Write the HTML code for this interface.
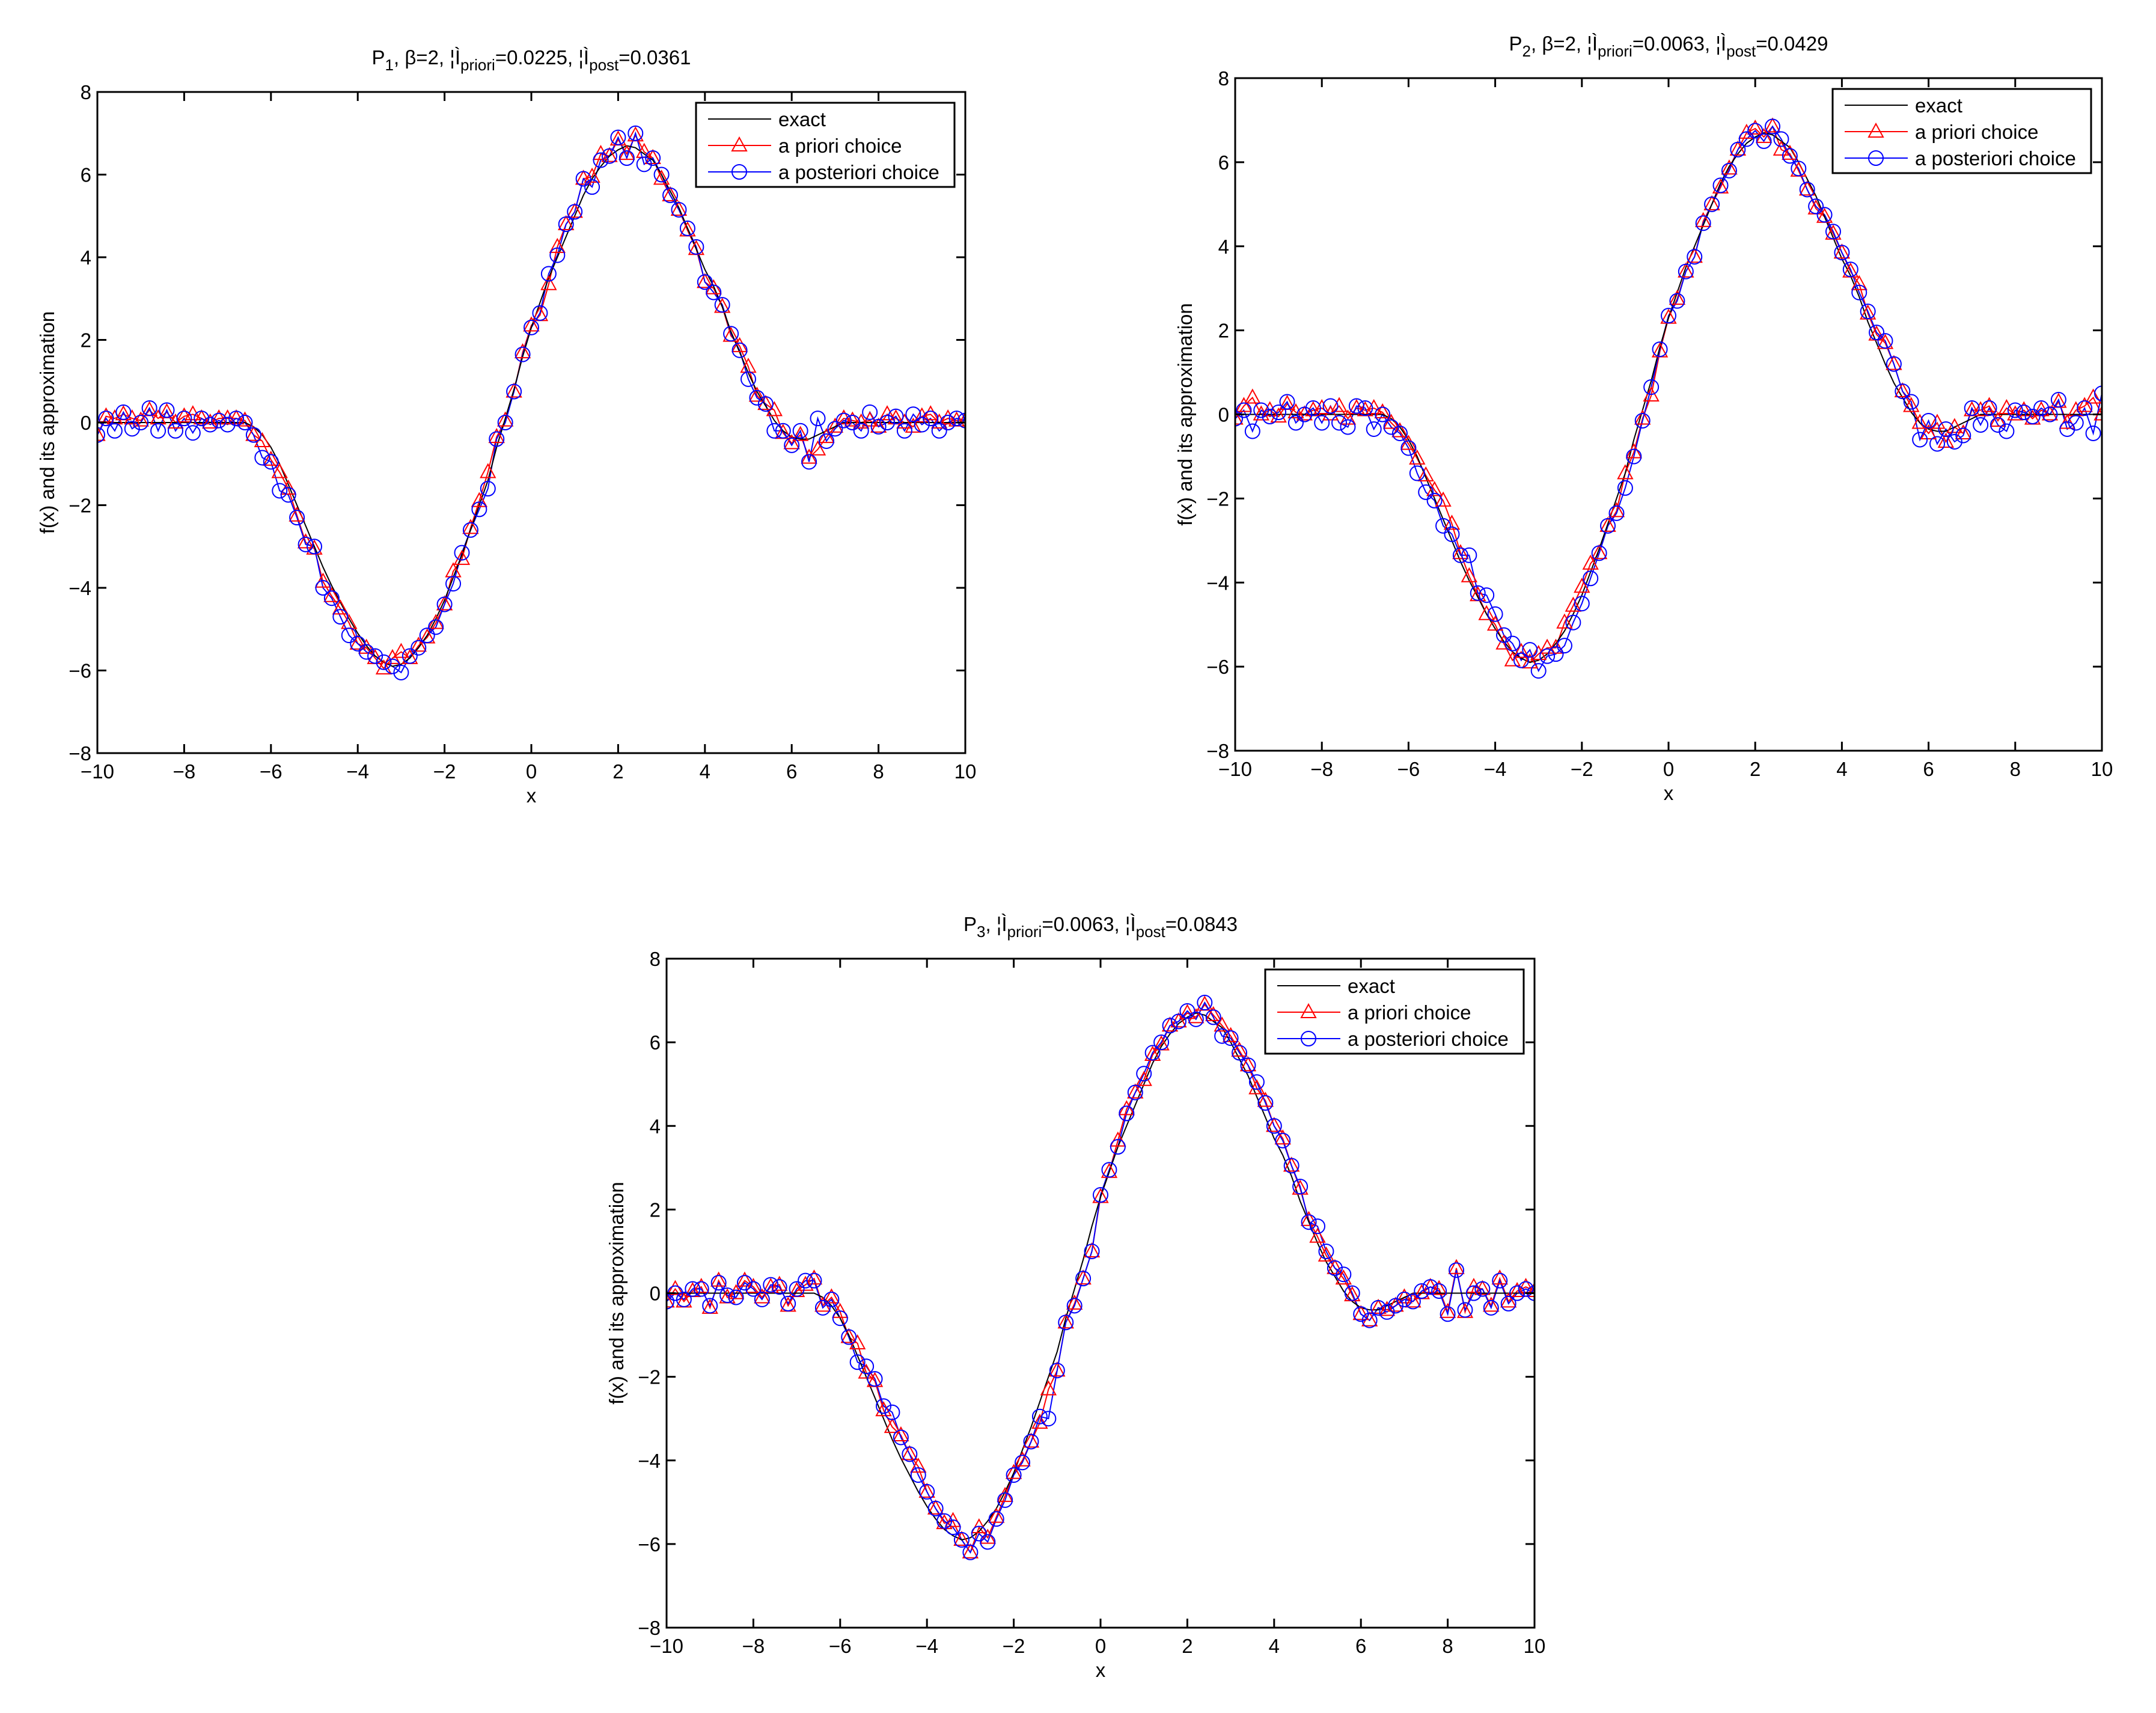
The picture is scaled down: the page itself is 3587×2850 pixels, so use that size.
<!DOCTYPE html>
<html><head><meta charset="utf-8">
<style>
html,body{margin:0;padding:0;background:#fff;}
svg{display:block;font-family:"Liberation Sans",Arial,sans-serif;}
</style></head>
<body>
<svg id="fig" width="3587" height="2850" viewBox="0 0 3587 2850" xmlns="http://www.w3.org/2000/svg"></svg>
<script>
const xTicks = [-10,-8,-6,-4,-2,0,2,4,6,8,10];
const yTicks = [-8,-6,-4,-2,0,2,4,6,8];
const exactY = [0,0,0,0,0,0,0,0,0,0,0,0,0,0,0,0,0,
0,-0.1,-0.3,-0.6,-1.0,-1.5,-2.0,-2.5,-3.0,-3.5,
-3.95,-4.35,-4.75,-5.1,-5.4,-5.65,-5.8,-5.9,-5.85,-5.7,
-5.45,-5.15,-4.75,-4.3,-3.75,-3.2,-2.6,-2.0,-1.4,-0.6,
0.1,0.8,1.6,2.3,2.9,3.5,4.0,4.5,5.0,5.5,
5.9,6.2,6.45,6.6,6.7,6.65,6.5,6.35,6.0,5.6,
5.2,4.7,4.2,3.7,3.3,2.8,2.2,1.7,1.2,0.75,
0.4,0.05,-0.2,-0.35,-0.4,-0.4,-0.3,-0.2,-0.1,
0,0,0,0,0,0,0,0,0,0,0,0,0,0,0];
const p1Priori = [-0.3,0.15,0.1,0.2,0.1,0.05,0.3,0.1,0.25,0.0,0.15,0.2,0.1,0.0,0.1,0.1,0.1,
0.05,-0.3,-0.45,-0.9,-1.2,-1.6,-2.25,-2.9,-3.05,-3.85,-4.2,-4.5,-4.85,-5.35,-5.45,-5.7,-5.95,-5.7,-5.55,-5.7,-5.4,-5.2,-4.85,-4.4,-3.6,-3.3,-2.55,-1.9,-1.2,-0.35,0.05,0.75,1.7,2.35,2.6,3.35,4.25,4.8,5.1,5.9,5.95,6.5,6.45,6.85,6.5,6.95,6.55,6.4,5.9,5.5,5.15,4.65,4.2,3.4,3.25,2.8,2.1,1.85,1.35,0.65,0.45,0.3,-0.25,-0.5,-0.3,-0.85,-0.65,-0.35,-0.1,
0.1,0.05,0.0,0.05,-0.1,0.2,0.1,0.0,-0.1,0.15,0.2,0.0,0.1,0.05,0.05];
const p1Post = [-0.3,0.1,-0.2,0.25,-0.15,0.0,0.35,-0.2,0.3,-0.2,0.1,-0.25,0.1,-0.05,0.05,-0.05,0.1,
0.0,-0.3,-0.85,-0.95,-1.65,-1.75,-2.3,-2.95,-3.0,-4.0,-4.25,-4.7,-5.15,-5.35,-5.55,-5.65,-5.8,-5.9,-6.05,-5.65,-5.45,-5.15,-4.95,-4.4,-3.9,-3.15,-2.6,-2.1,-1.6,-0.4,0.0,0.75,1.65,2.3,2.65,3.6,4.05,4.8,5.1,5.9,5.7,6.35,6.45,6.9,6.4,7.0,6.25,6.4,6.0,5.5,5.15,4.7,4.25,3.4,3.15,2.85,2.15,1.75,1.05,0.6,0.45,-0.2,-0.2,-0.55,-0.2,-0.95,0.1,-0.45,-0.15,
0.05,0.0,-0.2,0.25,-0.1,0.0,0.15,-0.2,0.2,-0.05,0.1,-0.2,0.0,0.1,0.05];
const p2Priori = [-0.1,0.2,0.4,0.0,0.1,-0.05,0.25,0.05,0.0,0.1,0.15,0.0,0.2,-0.1,0.15,0.1,0.15,
0.05,-0.2,-0.4,-0.7,-1.05,-1.45,-1.8,-2.05,-2.6,-3.3,
-3.85,-4.3,-4.75,-5.0,-5.45,-5.85,-5.65,-5.9,-5.7,-5.55,
-5.55,-4.95,-4.55,-4.1,-3.55,-3.3,-2.65,-2.3,-1.4,-0.9,
-0.1,0.45,1.5,2.3,2.75,3.4,3.75,4.6,5.0,5.4,
5.85,6.3,6.7,6.8,6.6,6.85,6.3,6.2,5.8,5.35,
4.9,4.7,4.3,3.85,3.4,3.1,2.4,1.9,1.7,1.2,
0.55,0.2,-0.2,-0.45,-0.2,-0.65,-0.3,-0.45,0.1,
0.1,0.2,-0.15,0.15,0.0,0.1,-0.1,0.1,0.0,0.3,-0.2,0.1,0.2,0.4,0.0];
const p2Post = [-0.1,0.1,-0.4,0.1,-0.05,0.05,0.3,-0.2,0.0,0.15,-0.2,0.2,-0.2,-0.3,0.2,0.15,-0.35,
0.0,-0.3,-0.45,-0.8,-1.4,-1.85,-2.05,-2.65,-2.85,-3.35,
-3.35,-4.25,-4.3,-4.75,-5.25,-5.45,-5.85,-5.6,-6.1,-5.75,
-5.7,-5.5,-4.95,-4.5,-3.9,-3.3,-2.65,-2.35,-1.75,-1.0,
-0.15,0.65,1.55,2.35,2.7,3.4,3.75,4.55,5.0,5.45,
5.8,6.3,6.55,6.75,6.5,6.85,6.55,6.15,5.85,5.35,
4.95,4.75,4.35,3.85,3.45,2.9,2.45,1.95,1.75,1.2,
0.55,0.3,-0.6,-0.15,-0.7,-0.35,-0.65,-0.5,0.15,
-0.25,0.15,-0.25,-0.4,0.1,0.05,-0.05,0.15,0.0,0.35,-0.35,-0.2,0.15,-0.45,0.5];
const p3Priori = [-0.2,0.1,-0.2,0.05,0.15,-0.35,0.3,-0.1,0.0,0.3,0.15,-0.1,0.15,0.2,-0.3,0.05,0.2,
0.35,-0.3,-0.1,-0.45,-1.05,-1.2,-1.9,-2.1,-2.8,-3.2,
-3.4,-3.85,-4.15,-4.75,-5.15,-5.5,-5.45,-5.9,-6.2,-5.6,
-5.85,-5.35,-4.85,-4.3,-4.0,-3.55,-3.1,-2.3,-1.85,-0.7,
-0.25,0.35,1.0,2.3,2.9,3.65,4.4,4.8,5.1,5.7,
5.95,6.4,6.5,6.7,6.6,6.9,6.65,6.4,6.15,5.8,
5.45,4.9,4.6,4.0,3.7,3.05,2.5,1.75,1.35,0.9,
0.6,0.35,-0.05,-0.5,-0.65,-0.35,-0.4,-0.3,-0.1,
-0.2,0.0,0.15,0.1,-0.45,0.6,-0.45,0.15,0.1,-0.3,0.35,-0.2,0.05,0.15,0.05];
const p3Post = [-0.2,0.0,-0.15,0.1,0.1,-0.3,0.25,-0.05,-0.1,0.25,0.1,-0.15,0.2,0.15,-0.25,0.1,0.3,
0.3,-0.35,-0.15,-0.6,-1.05,-1.65,-1.75,-2.05,-2.7,-2.85,
-3.45,-3.85,-4.35,-4.75,-5.15,-5.45,-5.6,-5.9,-6.2,-5.75,
-5.95,-5.4,-4.95,-4.35,-4.05,-3.55,-2.95,-3.0,-1.85,-0.7,
-0.3,0.35,1.0,2.35,2.95,3.5,4.3,4.8,5.25,5.75,
6.0,6.4,6.5,6.75,6.55,6.95,6.6,6.15,6.1,5.75,
5.45,5.05,4.55,4.0,3.65,3.05,2.55,1.7,1.6,1.0,
0.6,0.45,0.0,-0.5,-0.65,-0.35,-0.45,-0.3,-0.15,
-0.2,0.05,0.15,0.05,-0.5,0.55,-0.4,0.0,0.1,-0.35,0.3,-0.25,0.0,0.1,0.0];

const NS = "http://www.w3.org/2000/svg";
const fig = document.getElementById('fig');
function mk(tag, attrs, parent){
  const e = document.createElementNS(NS, tag);
  for (const k in attrs) e.setAttribute(k, attrs[k]);
  (parent||fig).appendChild(e);
  return e;
}
function xs(i){ return -10 + i*0.2; }

function drawPlot(box, titleParts, priori, post, idx){
  const g = mk('g', {});
  
  
  const L=box[0], T=box[1], R=box[2], B=box[3];
  const sx = v => L + (v+10)/20*(R-L);
  const sy = v => B - (v+8)/16*(B-T);
  const clip = 'clip'+idx;
  const cp = mk('clipPath', {id:clip}, g);
  mk('rect', {x:L, y:T, width:R-L, height:B-T}, cp);
  const sg = mk('g', {'clip-path':'url(#'+clip+')'}, g);
  
  
  function pts(arr){ return arr.map((v,i)=>sx(xs(i)).toFixed(1)+','+sy(v).toFixed(1)).join(' '); }
  const lr = mk('polyline', {points:pts(priori), fill:'none', stroke:'#ff0000', 'stroke-width':2}, sg);
  
  
  const lb = mk('polyline', {points:pts(post), fill:'none', stroke:'#0000ff', 'stroke-width':2}, sg);
  
  
  const le = mk('polyline', {points:pts(exactY), fill:'none', stroke:'#000', 'stroke-width':2}, sg);
  
  
  priori.forEach((v,i)=>{
    const cx=sx(xs(i)), cy=sy(v);
    const t = mk('polygon', {points:`${cx},${cy-13} ${cx-12},${cy+9} ${cx+12},${cy+9}`, fill:'none', stroke:'#ff0000', 'stroke-width':2}, sg);
    
    
  });
  post.forEach((v,i)=>{
    const c = mk('circle', {cx:sx(xs(i)), cy:sy(v), r:12, fill:'none', stroke:'#0000ff', 'stroke-width':2}, sg);
    
    
  });
  const ax = mk('rect', {x:L, y:T, width:R-L, height:B-T, fill:'none', stroke:'#000', 'stroke-width':3}, g);
  
  
  xTicks.forEach(v=>{
    const x=sx(v);
    mk('line', {x1:x, y1:B, x2:x, y2:B-15, stroke:'#000', 'stroke-width':3}, g);
    mk('line', {x1:x, y1:T, x2:x, y2:T+15, stroke:'#000', 'stroke-width':3}, g);
    const t = mk('text', {x:x, y:B+42, 'font-size':33, 'text-anchor':'middle'}, g);
    
    
    t.textContent = v<0 ? '\u2212'+(-v) : String(v);
  });
  yTicks.forEach(v=>{
    const y=sy(v);
    mk('line', {x1:L, y1:y, x2:L+15, y2:y, stroke:'#000', 'stroke-width':3}, g);
    mk('line', {x1:R, y1:y, x2:R-15, y2:y, stroke:'#000', 'stroke-width':3}, g);
    const t = mk('text', {x:L-10, y:y+12, 'font-size':33, 'text-anchor':'end'}, g);
    
    
    t.textContent = v<0 ? '\u2212'+(-v) : String(v);
  });
  const xl = mk('text', {x:(L+R)/2, y:B+82, 'font-size':33, 'text-anchor':'middle'}, g);
  
  
  xl.textContent = 'x';
  const yc=(T+B)/2, yx=L-72;
  const yl = mk('text', {x:yx, y:yc, 'font-size':33, 'text-anchor':'middle', transform:`rotate(-90 ${yx} ${yc})`}, g);
  
  
  yl.textContent = 'f(x) and its approximation';
  const tt = mk('text', {x:(L+R)/2, y:T-46, 'font-size':33, 'text-anchor':'middle'}, g);
  
  
  titleParts.forEach(p=>{
    const s = mk('tspan', {}, tt);
    if (p[1]) { s.setAttribute('font-size', 26); s.setAttribute('dy', 10); }
    else if (p[2]) { s.setAttribute('dy', -10); }
    s.textContent = p[0];
  });
  const lx2=R-18, ly1=T+18, lw=430, lh=140, lx1=lx2-lw;
  const lg = mk('g', {}, g);
  
  
  mk('rect', {x:lx1, y:ly1, width:lw, height:lh, fill:'#fff', stroke:'#000', 'stroke-width':3}, lg);
  const entries = [['exact','#000',null],['a priori choice','#ff0000','tri'],['a posteriori choice','#0000ff','circ']];
  entries.forEach((e,k)=>{
    const y = ly1 + 27 + k*44;
    const eg = mk('g', {}, lg);
    
    
    mk('line', {x1:lx1+20, y1:y, x2:lx1+125, y2:y, stroke:e[1], 'stroke-width':2}, eg);
    const cx=lx1+72;
    if (e[2]==='tri') mk('polygon', {points:`${cx},${y-13} ${cx-12},${y+9} ${cx+12},${y+9}`, fill:'none', stroke:e[1], 'stroke-width':2}, eg);
    if (e[2]==='circ') mk('circle', {cx:cx, cy:y, r:12, fill:'none', stroke:e[1], 'stroke-width':2}, eg);
    const t = mk('text', {x:lx1+137, y:y+12, 'font-size':33}, eg);
    t.textContent = e[0];
  });
}

drawPlot([162,153,1606,1253],
  [['P'],['1',1],[', \u03b2=2, \u00a6\u00cc',0,1],['priori',1],['=0.0225, \u00a6\u00cc',0,1],['post',1],['=0.0361',0,1]],
  p1Priori, p1Post, 1);
drawPlot([2055,130,3497,1249],
  [['P'],['2',1],[', \u03b2=2, \u00a6\u00cc',0,1],['priori',1],['=0.0063, \u00a6\u00cc',0,1],['post',1],['=0.0429',0,1]],
  p2Priori, p2Post, 2);
drawPlot([1109,1595,2553,2708],
  [['P'],['3',1],[', \u00a6\u00cc',0,1],['priori',1],['=0.0063, \u00a6\u00cc',0,1],['post',1],['=0.0843',0,1]],
  p3Priori, p3Post, 3);
</script>
</body></html>
